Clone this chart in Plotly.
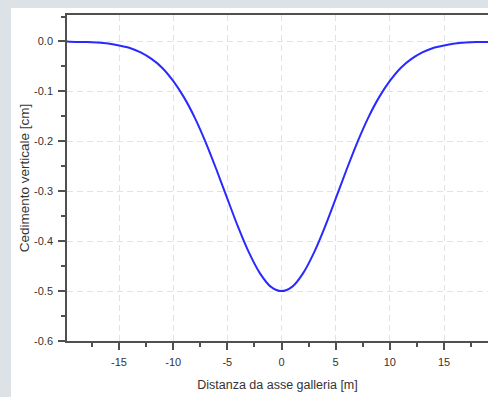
import plotly.graph_objects as go

# Data (settlement trough)
distance_m = [-20, -19, -18, -17, -16, -15, -14, -13, -12, -11, -10, -9, -8, -7, -6, -5, -4, -3, -2, -1,
              0, 1, 2, 3, 4, 5, 6, 7, 8, 9, 10, 11, 12, 13, 14, 15, 16, 17, 18, 19, 20]
settlement_cm = [-0.000, -0.001, -0.001, -0.002, -0.004, -0.008, -0.013, -0.022, -0.035, -0.053,
                 -0.079, -0.112, -0.153, -0.202, -0.257, -0.315, -0.372, -0.423, -0.464, -0.491,
                 -0.500, -0.491, -0.464, -0.423, -0.372, -0.315, -0.257, -0.202, -0.153, -0.112,
                 -0.079, -0.053, -0.035, -0.022, -0.013, -0.008, -0.004, -0.002, -0.001, -0.001, -0.000]

x_tick_vals = [-15, -10, -5, 0, 5, 10, 15]
x_tick_text = ["-15", "-10", "-5", "0", "5", "10", "15"]
y_tick_vals = [0.0, -0.1, -0.2, -0.3, -0.4, -0.5, -0.6]
y_tick_text = ["0.0", "-0.1", "-0.2", "-0.3", "-0.4", "-0.5", "-0.6"]

FONT = "Liberation Sans, Arial, sans-serif"
AX = "#505050"

fig = go.Figure()
fig.add_trace(go.Scatter(
    x=distance_m, y=settlement_cm, mode="lines",
    line=dict(color="#2a2aff", width=2, shape="spline", smoothing=0.8),
    hoverinfo="x+y", showlegend=False,
))

fig.update_layout(
    width=488, height=397,
    margin=dict(l=67, r=0, t=15, b=56),
    paper_bgcolor="#dde2e7",
    plot_bgcolor="white",
    showlegend=False,
    shapes=[dict(type="rect", xref="paper", yref="paper",
                 x0=-0.133, x1=1.05, y0=-0.2, y1=1.0215,
                 fillcolor="white", line=dict(width=0), layer="below")],
)

fig.update_xaxes(
    range=[-19.8, 19.06],
    tickmode="array", tickvals=x_tick_vals, ticktext=x_tick_text,
    ticks="outside", ticklen=7, tickwidth=1.5, tickcolor=AX,
    minor=dict(dtick=2.5, tick0=0, ticks="outside", ticklen=4, tickwidth=1.5, tickcolor=AX, showgrid=False),
    showline=True, linecolor=AX, linewidth=1.5, mirror=True,
    showgrid=True, gridcolor="#e2e2e2", gridwidth=1.2, griddash="6px,4px",
    zeroline=False,
    tickfont=dict(family=FONT, size=11, color="#333333"),
    ticklabelstandoff=3,
    title=dict(text="Distanza da asse galleria [m]", font=dict(family=FONT, size=12.5, color="#333333"), standoff=13),
)

fig.update_yaxes(
    range=[-0.6, 0.053],
    tickmode="array", tickvals=y_tick_vals, ticktext=y_tick_text,
    ticks="outside", ticklen=7, tickwidth=1.5, tickcolor=AX,
    minor=dict(dtick=0.05, tick0=0, ticks="outside", ticklen=4, tickwidth=1.5, tickcolor=AX, showgrid=False),
    showline=True, linecolor=AX, linewidth=1.5, mirror=False,
    showgrid=True, gridcolor="#e2e2e2", gridwidth=1.2, griddash="6px,4px",
    zeroline=False,
    tickfont=dict(family=FONT, size=11, color="#333333"),
    ticklabelstandoff=3,
    title=dict(text="Cedimento verticale [cm]", font=dict(family=FONT, size=13.5, color="#333333"), standoff=1),
)

fig.write_html("out.html", config={"displayModeBar": False},
               post_script="document.body.style.margin='0';document.body.style.overflow='hidden';")
